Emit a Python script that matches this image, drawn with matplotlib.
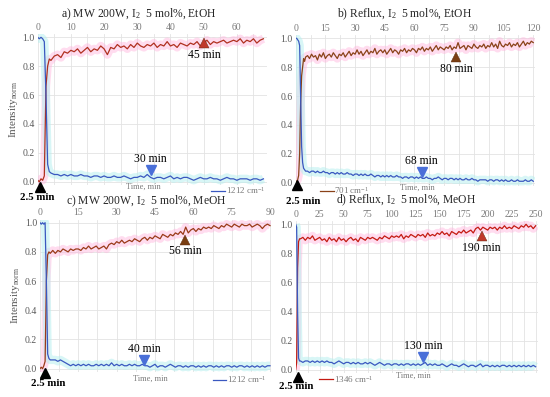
import numpy as np
import matplotlib
matplotlib.use("Agg")
import matplotlib.pyplot as plt

plt.rcParams['font.family'] = ['Liberation Serif', 'DejaVu Serif']
plt.rcParams['mathtext.fontset'] = 'custom'
plt.rcParams['mathtext.rm'] = 'Liberation Serif'
plt.rcParams['mathtext.it'] = 'Liberation Serif:italic'
plt.rcParams['mathtext.bf'] = 'Liberation Serif:bold'

# ---------------- data ----------------
t_a = [0, 0.5, 1, 1.5, 2, 2.5, 3, 3.5, 4] + list(range(5, 69))
red_a = [0.01, 0.00, 0.02, 0.01, 0.04, 0.66, 0.80, 0.85, 0.84,
         0.87, 0.88, 0.86, 0.90, 0.89, 0.91, 0.90, 0.92, 0.89, 0.91,
         0.93, 0.90, 0.92, 0.91, 0.94, 0.92, 0.88, 0.93, 0.92, 0.95,
         0.93, 0.94, 0.92, 0.95, 0.93, 0.96, 0.94, 0.93, 0.95, 0.94,
         0.96, 0.93, 0.95, 0.94, 0.97, 0.94, 0.95, 0.93, 0.96, 0.95,
         0.94, 0.96, 0.95, 0.97, 0.94, 0.96, 0.98, 0.95, 0.97, 0.96,
         0.97, 0.98, 0.96, 0.97, 0.98, 0.97, 0.99, 0.96, 0.98, 0.97,
         0.99, 0.96, 0.98, 0.99]
blue_a = [1.00, 0.99, 1.00, 0.99, 0.97, 0.60, 0.12, 0.07, 0.06,
          0.05, 0.05, 0.04, 0.05, 0.04, 0.05, 0.04, 0.04, 0.05, 0.04,
          0.04, 0.03, 0.04, 0.04, 0.03, 0.04, 0.03, 0.03, 0.04, 0.03,
          0.03, 0.04, 0.03, 0.02, 0.03, 0.03, 0.04, 0.03, 0.05, 0.03,
          0.02, 0.03, 0.03, 0.02, 0.03, 0.04, 0.02, 0.03, 0.02, 0.03,
          0.03, 0.02, 0.01, 0.02, 0.03, 0.02, 0.02, 0.03, 0.02, 0.02,
          0.01, 0.02, 0.03, 0.02, 0.02, 0.01, 0.02, 0.02, 0.02, 0.01,
          0.02, 0.02, 0.01, 0.02]

t_b = [0, 0.5, 1, 1.5, 2, 2.5, 3, 3.5, 4, 4.5, 5] + list(range(6, 121))
red_b = [0.00, 0.01, 0.02, 0.05, 0.20, 0.55, 0.74, 0.80, 0.86, 0.84, 0.87,
         0.88, 0.86, 0.89, 0.87, 0.88, 0.85, 0.89, 0.87, 0.90, 0.86,
         0.88, 0.89, 0.87, 0.90, 0.88, 0.86, 0.89, 0.88, 0.90, 0.87,
         0.89, 0.91, 0.88, 0.90, 0.89, 0.92, 0.89, 0.91, 0.88, 0.90,
         0.92, 0.89, 0.91, 0.90, 0.93, 0.89, 0.91, 0.92, 0.90, 0.92,
         0.89, 0.91, 0.93, 0.90, 0.92, 0.91, 0.89, 0.92, 0.91, 0.93,
         0.90, 0.92, 0.91, 0.93, 0.92, 0.90, 0.93, 0.92, 0.94, 0.91,
         0.93, 0.92, 0.94, 0.91, 0.93, 0.95, 0.92, 0.94, 0.93, 0.92,
         0.94, 0.93, 0.95, 0.92, 0.94, 0.93, 0.97, 0.93, 0.94, 0.95,
         0.92, 0.95, 0.94, 0.93, 0.96, 0.94, 0.93, 0.95, 0.94, 0.96,
         0.93, 0.95, 0.94, 0.97, 0.94, 0.96, 0.93, 0.98, 0.95, 0.94,
         0.96, 0.95, 0.97, 0.94, 0.96, 0.95, 0.97, 0.94, 0.96, 0.98,
         0.95, 0.97, 0.96, 0.98, 0.97]
blue_b = [1.00, 1.00, 0.99, 0.98, 0.95, 0.60, 0.25, 0.14, 0.10, 0.09, 0.08,
          0.08, 0.07, 0.08, 0.08, 0.07, 0.08, 0.07, 0.07, 0.08, 0.07,
          0.07, 0.06, 0.07, 0.07, 0.06, 0.07, 0.06, 0.07, 0.06, 0.06,
          0.07, 0.06, 0.06, 0.05, 0.06, 0.06, 0.05, 0.06, 0.05, 0.06,
          0.05, 0.05, 0.06, 0.05, 0.04, 0.05, 0.05, 0.04, 0.05, 0.04,
          0.05, 0.04, 0.05, 0.04, 0.04, 0.05, 0.04, 0.04, 0.03, 0.04,
          0.04, 0.03, 0.04, 0.04, 0.03, 0.04, 0.03, 0.04, 0.03, 0.03,
          0.04, 0.03, 0.03, 0.02, 0.03, 0.03, 0.04, 0.03, 0.02, 0.03,
          0.03, 0.02, 0.03, 0.03, 0.02, 0.03, 0.02, 0.03, 0.02, 0.02,
          0.03, 0.02, 0.02, 0.03, 0.02, 0.02, 0.01, 0.02, 0.02, 0.02,
          0.02, 0.01, 0.02, 0.02, 0.01, 0.02, 0.02, 0.01, 0.02, 0.01,
          0.02, 0.01, 0.01, 0.02, 0.01, 0.01, 0.02, 0.01, 0.01, 0.01,
          0.02, 0.01, 0.01, 0.02, 0.01]

t_c = [0, 0.5, 1, 1.5, 2, 2.5, 3, 3.5, 4] + list(range(5, 91))
red_c = [0.00, 0.01, 0.00, 0.02, 0.05, 0.60, 0.78, 0.80, 0.79,
         0.81, 0.79, 0.81, 0.80, 0.82, 0.81, 0.80, 0.82, 0.81, 0.82,
         0.82, 0.81, 0.83, 0.82, 0.84, 0.82, 0.83, 0.84, 0.82, 0.83,
         0.84, 0.82, 0.85, 0.86, 0.85, 0.87, 0.86, 0.88, 0.86, 0.87,
         0.88, 0.87, 0.89, 0.88, 0.87, 0.89, 0.90, 0.88, 0.90, 0.89,
         0.91, 0.90, 0.89, 0.92, 0.91, 0.90, 0.92, 0.91, 0.93, 0.92,
         0.94, 0.92, 0.97, 0.93, 0.95, 0.96, 0.94, 0.96, 0.95, 0.97,
         0.96, 0.97, 0.96, 0.98, 0.97, 0.96, 0.98, 0.97, 0.99, 0.98,
         0.97, 0.99, 0.98, 0.97, 0.99, 0.98, 0.98, 0.99, 0.97, 0.98,
         0.99, 0.98, 0.96, 0.98, 0.99, 0.98]
blue_c = [1.00, 0.99, 1.00, 0.99, 1.00, 0.60, 0.10, 0.07, 0.06,
          0.06, 0.06, 0.05, 0.06, 0.05, 0.04, 0.03, 0.02, 0.03, 0.02,
          0.03, 0.02, 0.03, 0.02, 0.03, 0.02, 0.02, 0.03, 0.02, 0.03,
          0.02, 0.03, 0.02, 0.04, 0.02, 0.03, 0.02, 0.03, 0.02, 0.02,
          0.03, 0.02, 0.03, 0.02, 0.02, 0.03, 0.02, 0.02, 0.01, 0.02,
          0.03, 0.01, 0.02, 0.02, 0.01, 0.02, 0.03, 0.02, 0.01, 0.02,
          0.02, 0.01, 0.02, 0.01, 0.02, 0.02, 0.01, 0.02, 0.01, 0.02,
          0.01, 0.02, 0.02, 0.01, 0.02, 0.01, 0.02, 0.01, 0.02, 0.02,
          0.01, 0.02, 0.01, 0.02, 0.02, 0.01, 0.02, 0.01, 0.02, 0.01,
          0.02, 0.01, 0.02, 0.01, 0.02, 0.02]

t_d = [0, 1, 2, 3, 4] + list(np.arange(5, 251, 2.5))
red_d = [0.00, 0.05, 0.70, 0.88, 0.90,
         0.90, 0.91, 0.89, 0.91, 0.90, 0.92, 0.89, 0.90, 0.91, 0.89,
         0.90, 0.88, 0.91, 0.89, 0.90, 0.88, 0.91, 0.89, 0.90, 0.88,
         0.90, 0.91, 0.89, 0.90, 0.88, 0.91, 0.90, 0.89, 0.91, 0.90,
         0.91, 0.90, 0.89, 0.91, 0.90, 0.92, 0.91, 0.90, 0.92, 0.91,
         0.92, 0.91, 0.93, 0.90, 0.92, 0.91, 0.93, 0.92, 0.91, 0.93,
         0.92, 0.93, 0.91, 0.94, 0.92, 0.93, 0.92, 0.94, 0.93, 0.95,
         0.93, 0.94, 0.92, 0.95, 0.94, 0.93, 0.95, 0.94, 0.96, 0.94,
         0.95, 0.96, 0.94, 0.97, 0.98, 0.96, 0.98, 0.97, 0.96, 0.98,
         0.97, 0.98, 0.96, 0.98, 0.97, 0.99, 0.97, 0.98, 0.97, 0.99,
         0.98, 0.97, 0.99, 0.98, 1.00, 0.98, 0.99, 0.97, 0.99]
blue_d = [1.00, 0.98, 0.40, 0.08, 0.06,
          0.06, 0.05, 0.06, 0.06, 0.05, 0.06, 0.05, 0.06, 0.05, 0.06,
          0.05, 0.06, 0.05, 0.05, 0.04, 0.05, 0.06, 0.05, 0.04, 0.05,
          0.05, 0.04, 0.05, 0.04, 0.05, 0.04, 0.04, 0.05, 0.04, 0.05,
          0.04, 0.03, 0.04, 0.05, 0.04, 0.03, 0.04, 0.04, 0.03, 0.04,
          0.04, 0.03, 0.04, 0.03, 0.04, 0.04, 0.03, 0.04, 0.03, 0.04,
          0.03, 0.04, 0.05, 0.03, 0.04, 0.03, 0.04, 0.03, 0.03, 0.04,
          0.03, 0.02, 0.03, 0.04, 0.03, 0.03, 0.02, 0.03, 0.04, 0.03,
          0.02, 0.03, 0.03, 0.02, 0.03, 0.04, 0.02, 0.03, 0.03, 0.02,
          0.03, 0.02, 0.03, 0.02, 0.03, 0.03, 0.02, 0.03, 0.02, 0.03,
          0.02, 0.03, 0.02, 0.03, 0.02, 0.03, 0.02, 0.03, 0.02]

titles = ["a) MW 200W, I$_2$  5 mol%, EtOH",
          "b) Reflux, I$_2$  5 mol%, EtOH",
          "c) MW 200W, I$_2$  5 mol%, MeOH",
          "d) Reflux, I$_2$  5 mol%, MeOH"]
legend_labels = ["1212 cm$^{-1}$", "701 cm$^{-1}$", "1212 cm$^{-1}$", "1346 cm$^{-1}$"]
xtick_steps = [10, 15, 15, 25]
xtick_max = [60, 120, 90, 250]
xlims = [69, 121, 90.5, 252]
end_labels = [("45 min", "30 min"), ("80 min", "68 min"), ("56 min", "40 min"), ("190 min", "130 min")]
end_marks = [((50.2, 0.958), (34.0, 0.081)), ((81.0, 0.868), (63.6, 0.076)),
             ((56.7, 0.884), (40.7, 0.062)), ((193.8, 0.92), (132.9, 0.087))]
start_mark = [(0.7, -0.037), (0.5, -0.016), (2.0, -0.032), (2.1, -0.05)]

# ---------------- layout ----------------
W, H = 550, 397
rects = [[0.0685, 0.535, 0.4165, 0.3783],
         [0.5376, 0.5325, 0.4356, 0.3783],
         [0.0727, 0.0640, 0.4206, 0.3824],
         [0.5376, 0.0615, 0.4398, 0.3809]]
title_px = [(139, 14), (405, 14), (146, 201), (406, 200)]
timelab_pos = [(0.46, -0.014), (0.51, -0.016), (0.476, -0.047), (0.485, -0.022)]
start_off = [(-2, -7.5), (4.5, -12), (2, -7.5), (-1, -7)]
leg_pos = [(0.433, 0.52), (0.627, 0.52), (0.436, 0.043), (0.630, 0.045)]
red_cols = ['#b0301f', '#8a4218', '#9a3a18', '#c41a12']
blue_col = '#3a58c0'
tri_red = ['#c0392b', '#7a3e12', '#7a3e12', '#c0392b']
gray = '#595959'
tickgray = '#7a7a7a'

fig = plt.figure(figsize=(W / 100, H / 100), dpi=100)
series = [(t_a, red_a, blue_a), (t_b, red_b, blue_b), (t_c, red_c, blue_c), (t_d, red_d, blue_d)]

for i, (t, r, b) in enumerate(series):
    ax = fig.add_axes(rects[i])
    ax.set_xlim(0, xlims[i])
    ax.set_ylim(-0.02, 1.02)
    ax.plot(t, r, color='#ffb3dc', lw=6, alpha=0.45, solid_capstyle='butt', zorder=1)
    ax.plot(t, b, color='#b8f0f0', lw=6, alpha=0.55, solid_capstyle='butt', zorder=1)
    lr, = ax.plot(t, r, color=red_cols[i], lw=0.9, zorder=3)
    lb, = ax.plot(t, b, color=blue_col, lw=0.9, zorder=3)
    ax.xaxis.tick_top()
    ax.set_xticks(np.arange(0, xtick_max[i] + 1, xtick_steps[i]))
    ax.set_xticks(np.arange(0, xlims[i], xtick_steps[i] / 2), minor=True)
    ax.set_yticks(np.arange(0, 1.01, 0.2))
    ax.set_yticklabels([f"{v:.1f}" for v in np.arange(0, 1.01, 0.2)])
    ax.tick_params(axis='both', which='both', length=0, labelsize=7, pad=2)
    ax.tick_params(axis='x', labelcolor=tickgray)
    ax.tick_params(axis='y', labelcolor=gray)
    ax.grid(True, which='both', axis='x', color='#e3e3e3', lw=0.6)
    ax.grid(True, which='major', axis='y', color='#e3e3e3', lw=0.6)
    for s in ax.spines.values():
        s.set_visible(False)
    ax.set_axisbelow(True)

    tx, ty = title_px[i]
    fig.text(tx / W, 1 - ty / H, titles[i], ha='center', va='center', fontsize=8.4,
             color='#262626')
    lx, ly = timelab_pos[i]
    ax.text(lx, ly, "Time, min", transform=ax.transAxes, ha='center', va='center',
            fontsize=6, color=tickgray)
    if i in (0, 2):
        ax.set_ylabel("Intensity$_{\\mathrm{norm}}$", fontsize=8, color=gray, labelpad=2)

    (rx, ry), (bx, by) = end_marks[i]
    ax.plot([rx], [ry], marker='^', ms=7, color=tri_red[i], mec='#5a2a10', mew=0.3, zorder=5)
    ax.plot([bx], [by], marker='v', ms=7, color='#4a6fd8', zorder=5)
    ax.text(rx, ry - 0.04, end_labels[i][0], ha='center', va='top', fontsize=8.4, zorder=6)
    ax.text(bx, by + 0.035, end_labels[i][1], ha='center', va='bottom', fontsize=8.4, zorder=6)
    sx, sy = start_mark[i]
    ax.plot([sx], [sy], marker='^', ms=7, color='black', clip_on=False, zorder=6)
    ax.annotate("2.5 min", xy=(sx, sy), xytext=start_off[i], textcoords='offset points',
                ha='center', va='center', fontsize=7.8, fontweight='bold', annotation_clip=False)

    handle = lb if i in (0, 2) else lr
    ax.legend([handle], [legend_labels[i]], loc='center', bbox_to_anchor=leg_pos[i],
              bbox_transform=fig.transFigure, frameon=False, fontsize=6.5,
              handlelength=1.5, handletextpad=0.1, borderpad=0, labelcolor=tickgray)

fig.savefig("out.png", dpi=100)
